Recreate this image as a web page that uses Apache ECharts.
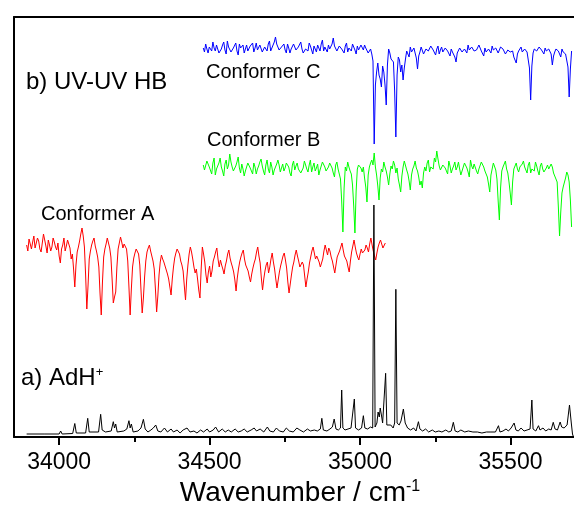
<!DOCTYPE html>
<html>
<head>
<meta charset="utf-8">
<script src="https://cdn.jsdelivr.net/npm/echarts@6/dist/echarts.min.js"></script>
<style>
  html, body { margin: 0; padding: 0; background: #fff; }
  #chart { width: 574px; height: 516px; }
</style>
</head>
<body>
<div id="chart"></div>
<script>
// x axis ticks
const tickValues = [34000, 34500, 35000, 35500];
const minorTickValues = [34250, 34750, 35250];

// b) UV-UV hole burning traces, sampled every 4 cm-1 (stacked display units)
const redStart = 33892;
const redStep = 4;
const redValues = [
  192, 186, 198, 193, 188, 195, 201, 189, 190, 199, 196, 188, 185, 194, 203, 197, 191, 184, 197, 192,
  186, 190, 199, 195, 190, 187, 194, 181, 174, 188, 192, 199, 186, 191, 197, 193, 189, 178, 183, 168,
  150, 172, 185, 190, 196, 203, 209, 201, 190, 162, 128, 151, 178, 186, 192, 196, 199, 191, 186, 180,
  170, 143, 122, 155, 180, 188, 193, 199, 197, 189, 180, 158, 134, 140, 145, 170, 188, 194, 200, 195,
  189, 193, 195, 188, 176, 150, 122, 148, 170, 179, 184, 188, 190, 183, 172, 147, 124, 139, 160, 176,
  185, 189, 192, 186, 181, 176, 168, 148, 125, 141, 162, 175, 182, 178, 175, 171, 169, 163, 158, 150,
  142, 158, 170, 179, 184, 188, 190, 183, 176, 172, 166, 151, 137, 158, 172, 183, 190, 185, 178, 170,
  164, 168, 158, 147, 139, 168, 190, 183, 175, 162, 154, 165, 171, 160, 166, 176, 180, 185, 189, 178,
  170, 177, 172, 168, 163, 171, 176, 183, 187, 179, 174, 170, 165, 157, 146, 159, 168, 175, 180, 184,
  187, 178, 172, 169, 166, 160, 155, 163, 169, 174, 178, 185, 190, 181, 174, 159, 147, 158, 166, 172,
  175, 164, 170, 178, 184, 175, 168, 158, 149, 157, 165, 171, 176, 181, 184, 177, 169, 155, 144, 153,
  162, 170, 175, 182, 187, 181, 176, 170, 168, 175, 172, 161, 150, 158, 165, 174, 180, 186, 190, 184,
  178, 181, 183, 175, 170, 174, 178, 186, 192, 187, 182, 189, 186, 180, 176, 170, 164, 172, 180, 183,
  186, 190, 194, 187, 181, 179, 176, 170, 165, 176, 185, 191, 197, 190, 184, 180, 177, 183, 188, 184,
  182, 187, 192, 189, 185, 193, 199, 192, 186, 181, 177, 184, 190, 194, 197, 193, 189, 191, 194
];

const greenStart = 34479;
const greenStep = 4;
const greenValues = [
  272, 267, 265, 276, 277, 270, 268, 263, 274, 279, 262, 268, 271, 274, 279, 270, 266, 261, 273, 277,
  268, 272, 283, 275, 270, 266, 264, 271, 275, 280, 269, 264, 273, 268, 261, 266, 270, 274, 276, 269,
  267, 263, 274, 270, 263, 268, 271, 275, 278, 271, 266, 262, 272, 277, 268, 264, 275, 270, 262, 267,
  270, 273, 277, 272, 265, 269, 273, 266, 269, 274, 276, 270, 264, 261, 272, 276, 267, 271, 274, 268,
  270, 264, 263, 269, 276, 272, 268, 265, 272, 277, 265, 270, 274, 266, 269, 273, 262, 267, 271, 275,
  277, 270, 266, 264, 270, 274, 273, 269, 264, 260, 272, 275, 268, 266, 258, 236, 205, 249, 270, 266,
  275, 270, 266, 263, 252, 231, 204, 246, 268, 272, 274, 269, 265, 270, 259, 250, 235, 262, 270, 274,
  277, 272, 284, 270, 262, 251, 237, 259, 268, 265, 275, 270, 266, 260, 252, 263, 271, 268, 276, 272,
  264, 269, 258, 252, 245, 261, 270, 276, 274, 267, 263, 256, 247, 262, 268, 271, 276, 269, 266, 260,
  252, 256, 249, 264, 270, 266, 274, 277, 265, 270, 272, 268, 279, 275, 286, 278, 271, 267, 266, 272,
  274, 269, 268, 263, 276, 271, 264, 268, 271, 275, 267, 270, 275, 268, 262, 266, 270, 274, 273, 269,
  265, 260, 277, 271, 268, 273, 272, 266, 263, 268, 270, 275, 274, 270, 266, 263, 260, 253, 245, 262,
  268, 274, 272, 267, 258, 236, 217, 249, 266, 270, 273, 276, 268, 264, 255, 244, 232, 255, 268, 271,
  274, 268, 265, 270, 270, 273, 276, 270, 267, 264, 272, 275, 264, 268, 270, 266, 275, 271, 266, 262,
  271, 274, 268, 265, 263, 269, 272, 268, 267, 273, 270, 264, 262, 258, 255, 230, 201, 225, 244, 250,
  252, 259, 265, 262, 255, 237, 210
];

const blueStart = 34479;
const blueStep = 4;
const blueValues = [
  389, 385, 393, 388, 384, 390, 391, 386, 395, 389, 386, 392, 390, 384, 382, 388, 392, 395, 387, 383,
  396, 390, 388, 385, 383, 389, 391, 394, 386, 382, 393, 389, 389, 392, 384, 388, 392, 386, 387, 391,
  390, 394, 385, 389, 394, 387, 388, 392, 391, 385, 384, 390, 389, 386, 393, 396, 386, 389, 391, 395,
  400, 393, 392, 387, 385, 390, 390, 393, 387, 384, 393, 389, 384, 388, 389, 393, 392, 387, 386, 390,
  391, 395, 388, 384, 383, 388, 390, 386, 394, 391, 387, 383, 391, 388, 385, 392, 390, 386, 393, 397,
  386, 390, 389, 385, 392, 388, 387, 393, 399, 391, 390, 386, 386, 391, 392, 388, 388, 384, 391, 394,
  385, 389, 390, 386, 393, 390, 387, 383, 391, 387, 386, 392, 390, 387, 392, 389, 388, 384, 385, 388,
  383, 376, 293, 352, 365, 374, 362, 358, 350, 371, 365, 352, 332, 372, 388, 384, 378, 380, 375, 346,
  300, 362, 380, 377, 365, 372, 357, 369, 378, 386, 384, 380, 390, 385, 383, 389, 387, 379, 368, 381,
  385, 390, 389, 383, 384, 388, 390, 386, 386, 391, 392, 387, 385, 382, 388, 391, 383, 387, 390, 385,
  386, 389, 391, 386, 384, 381, 388, 385, 383, 380, 375, 384, 386, 389, 390, 385, 385, 388, 389, 384,
  392, 387, 386, 390, 390, 386, 384, 387, 388, 392, 391, 386, 385, 381, 389, 385, 383, 388, 387, 384,
  391, 387, 385, 389, 389, 384, 386, 390, 392, 388, 387, 383, 384, 387, 389, 385, 385, 386, 380, 377,
  374, 383, 386, 388, 390, 385, 384, 388, 388, 385, 383, 369, 337, 371, 384, 388, 389, 386, 385, 390,
  391, 387, 386, 383, 389, 386, 384, 388, 387, 383, 372, 381, 385, 388, 390, 386, 384, 380, 388, 385,
  386, 383, 381, 370, 340, 368, 386
];

// a) AdH+ photodissociation spectrum
const blackWavenumbers = [
  33892, 33950, 34000, 34005, 34010, 34045, 34052, 34057, 34088, 34095, 34100, 34131, 34138, 34143, 34149, 34154,
  34173, 34180, 34184, 34188, 34193, 34215, 34225, 34232, 34236, 34240, 34246, 34262, 34272, 34280, 34286, 34295,
  34305, 34313, 34321, 34328, 34338, 34350, 34360, 34372, 34380, 34392, 34402, 34412, 34425, 34435, 34448, 34458,
  34470, 34480, 34492, 34500, 34512, 34520, 34530, 34542, 34552, 34562, 34572, 34585, 34595, 34605, 34615, 34625,
  34638, 34648, 34656, 34668, 34680, 34692, 34700, 34712, 34722, 34732, 34745, 34755, 34765, 34778, 34790, 34800,
  34812, 34825, 34835, 34848, 34858, 34868, 34873, 34878, 34890, 34900, 34908, 34914, 34920, 34928, 34935, 34939,
  34943, 34950, 34960, 34970, 34976, 34981, 34985, 34995, 35005, 35011, 35016, 35025, 35035, 35042, 35046, 35050,
  35056, 35060, 35064, 35067, 35071, 35075, 35080, 35085, 35089, 35095, 35102, 35110, 35115, 35119, 35123, 35130,
  35136, 35144, 35150, 35158, 35168, 35178, 35186, 35194, 35199, 35208, 35218, 35228, 35240, 35250, 35262, 35272,
  35285, 35295, 35303, 35310, 35316, 35325, 35335, 35348, 35360, 35375, 35390, 35405, 35420, 35435, 35450, 35460,
  35465, 35475, 35485, 35493, 35502, 35512, 35518, 35526, 35535, 35545, 35555, 35565, 35571, 35575, 35584, 35593,
  35598, 35608, 35617, 35627, 35635, 35642, 35648, 35656, 35665, 35670, 35678, 35688, 35696, 35702, 35706, 35709
];
const blackValues = [
  3, 3, 3, 6, 3, 3.5, 13.5, 4, 4, 18.7, 5, 5, 22.7, 7, 9, 5,
  6, 15.3, 9, 13, 5, 6, 8, 16.3, 9, 13, 5, 6, 9, 17.7, 8, 5,
  7, 9, 12, 6, 5, 9, 5, 8, 5, 7, 4, 7, 9, 5, 6, 4,
  7, 5, 8, 5, 7, 10, 5, 8, 5, 7, 5, 8, 5, 6, 8, 5,
  7, 9, 6, 8, 5, 10, 6, 5, 9, 6, 5, 9, 6, 5, 9, 7,
  5, 8, 6, 7, 6, 8, 18.7, 7, 6, 8, 10, 18, 8, 7, 9, 47,
  9, 7, 8, 9, 8, 38, 9, 7, 9, 21.3, 9, 8, 10, 9, 232, 10,
  14, 25, 20, 29, 22, 14, 12, 63.7, 12, 10, 12, 9, 14, 147.7, 14, 12,
  16, 28, 14, 9, 7, 9, 6, 15.3, 8, 6, 8, 5, 7, 5, 6, 5,
  7, 5, 6, 14.7, 6, 5, 7, 5, 6, 5, 5, 4, 5, 5, 5, 11.3,
  5, 6, 8, 6, 9, 14, 7, 6, 9, 6, 7, 8, 37, 8, 6, 11.3,
  7, 9, 6, 8, 7, 14.7, 8, 7, 15, 10, 9, 12, 32, 14, 3, 0.3
];

const FONT = '"Liberation Sans", Arial, sans-serif';
const xMin = 33850;
const xMax = 35711;

const sampled = (start, step, values) => values.map((v, i) => [start + i * step, v]);
const paired = (xs, ys) => xs.map((x, i) => [x, ys[i]]);

const trace = (name, color, data) => ({
  name,
  type: 'line',
  data,
  showSymbol: false,
  symbol: 'none',
  lineStyle: { color, width: 1 },
  xAxisIndex: 0,
  yAxisIndex: 0,
});

const chart = echarts.init(document.getElementById('chart'), null, { renderer: 'canvas' });

chart.setOption({
  animation: false,
  backgroundColor: '#fff',
  grid: [
    { left: 14, right: 0, top: 17, bottom: 79, show: false },
    { left: 14, right: 0, top: 17, bottom: 79, show: false },
  ],
  xAxis: [
    {
      type: 'value',
      gridIndex: 0,
      position: 'bottom',
      min: xMin,
      max: xMax,
      name: 'Wavenumber / cm{sup|-1}',
      nameLocation: 'middle',
      nameGap: 42,
      nameTextStyle: {
        color: '#000',
        fontFamily: FONT,
        fontSize: 28,
        padding: [0, 0, 0, 12],
        rich: {
          sup: { fontSize: 16, fontFamily: FONT, color: '#000', verticalAlign: 'top' },
        },
      },
      axisLine: { show: true, onZero: false, lineStyle: { color: '#000', width: 2 } },
      axisTick: { show: true, inside: false, length: 8, customValues: tickValues, lineStyle: { color: '#000', width: 2 } },
      axisLabel: {
        show: true,
        customValues: tickValues,
        margin: 14,
        color: '#000',
        fontFamily: FONT,
        fontSize: 23,
        formatter: (v) => String(v),
      },
      splitLine: { show: false },
    },
    {
      type: 'value',
      gridIndex: 0,
      position: 'top',
      min: xMin,
      max: xMax,
      axisLine: { show: true, onZero: false, lineStyle: { color: '#000', width: 2 } },
      axisTick: { show: false },
      axisLabel: { show: false },
      splitLine: { show: false },
    },
    {
      type: 'value',
      gridIndex: 1,
      position: 'bottom',
      min: xMin,
      max: xMax,
      axisLine: { show: false, onZero: false },
      axisTick: { show: true, inside: false, length: 5, customValues: minorTickValues, lineStyle: { color: '#000', width: 2 } },
      axisLabel: { show: false },
      splitLine: { show: false },
    },
  ],
  yAxis: [
    {
      type: 'value',
      gridIndex: 0,
      min: 0,
      max: 420,
      axisLine: { show: true, onZero: false, lineStyle: { color: '#000', width: 2 } },
      axisTick: { show: false },
      axisLabel: { show: false },
      splitLine: { show: false },
    },
    {
      type: 'value',
      gridIndex: 1,
      min: 0,
      max: 420,
      show: false,
    },
  ],
  series: [
    trace('Conformer A', '#ff0000', sampled(redStart, redStep, redValues)),
    trace('Conformer B', '#00ff00', sampled(greenStart, greenStep, greenValues)),
    trace('Conformer C', '#0000ff', sampled(blueStart, blueStep, blueValues)),
    trace('AdH+', '#000000', paired(blackWavenumbers, blackValues)),
  ],
  graphic: [
    { type: 'text', left: 26, top: 70, style: { text: 'b) UV-UV HB', fontFamily: FONT, fontSize: 24, fill: '#000' } },
    { type: 'text', left: 206, top: 62, style: { text: 'Conformer C', fontFamily: FONT, fontSize: 20, fill: '#000' } },
    { type: 'text', left: 207, top: 130, style: { text: 'Conformer B', fontFamily: FONT, fontSize: 20, fill: '#000' } },
    { type: 'text', left: 41, top: 204, style: { text: 'Conformer A', fontFamily: FONT, fontSize: 20, fill: '#000' } },
    {
      type: 'text',
      left: 21,
      top: 366,
      style: {
        text: 'a) AdH{sup|+}',
        fontFamily: FONT,
        fontSize: 24,
        fill: '#000',
        rich: { sup: { fontSize: 13, fontFamily: FONT, fill: '#000', verticalAlign: 'top' } },
      },
    },
  ],
});
</script>
</body>
</html>
